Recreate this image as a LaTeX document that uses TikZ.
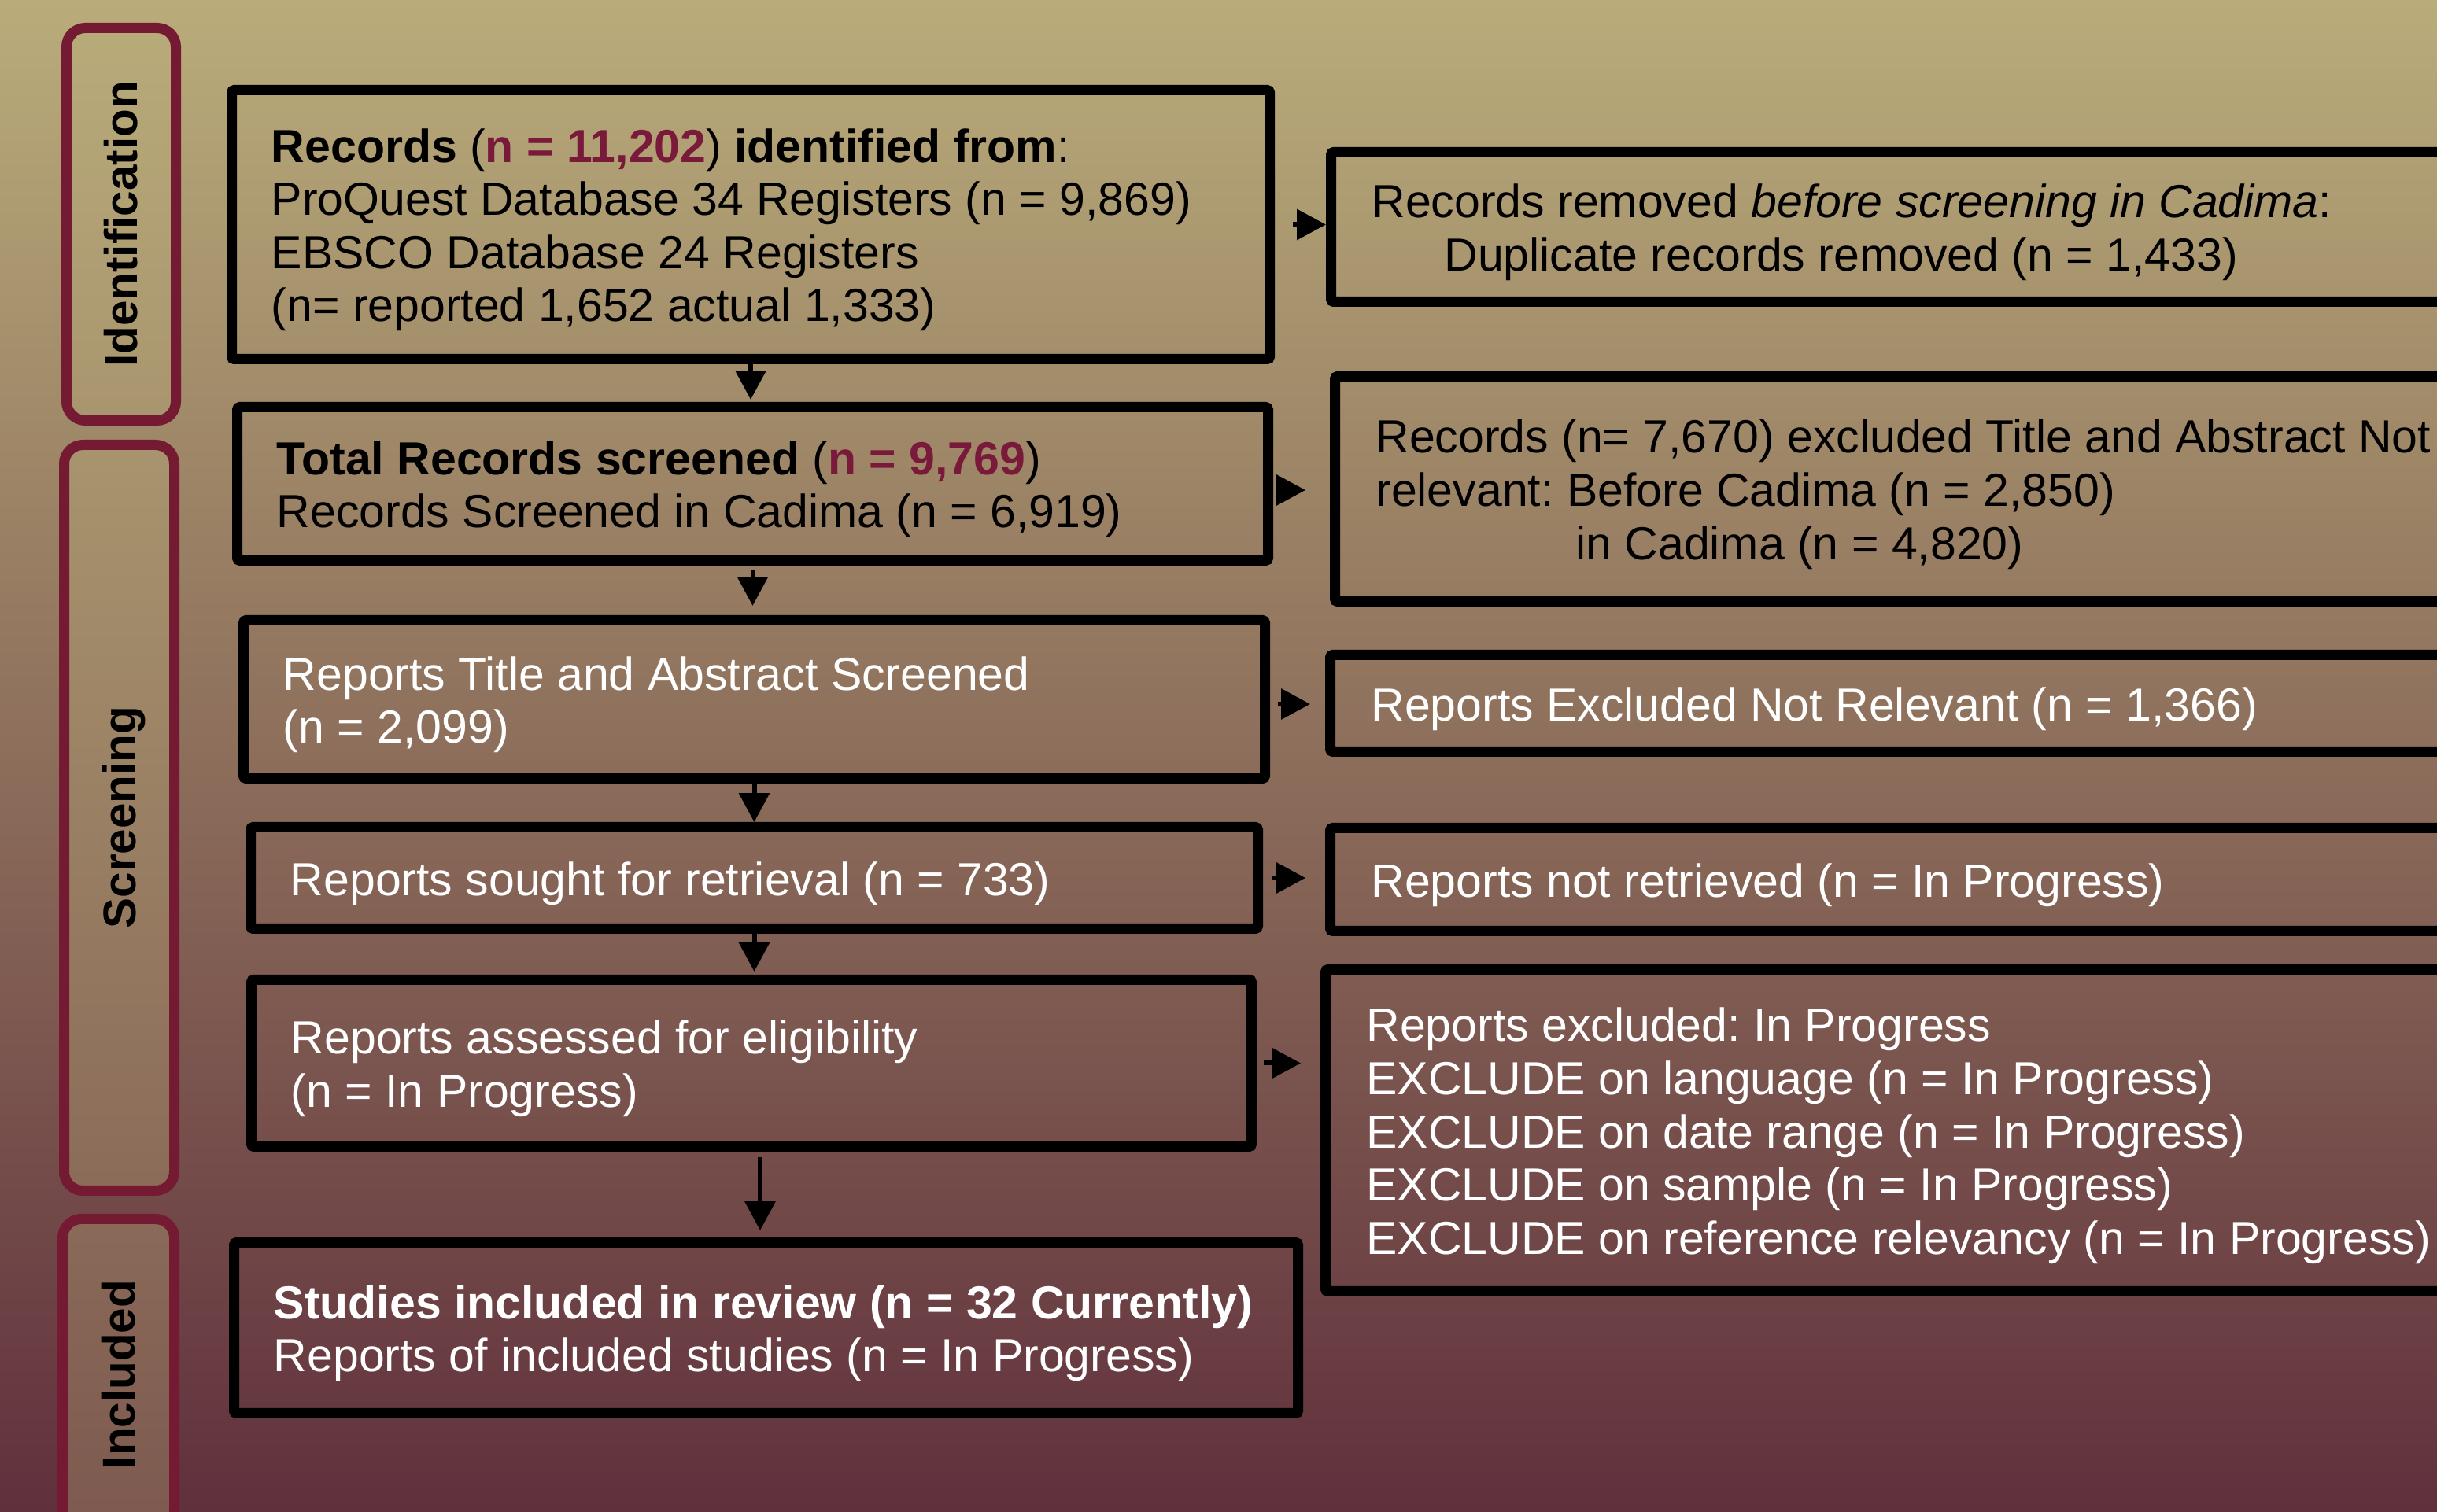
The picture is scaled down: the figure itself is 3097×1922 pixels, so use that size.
\documentclass[tikz,border=0pt]{standalone}
\usepackage{fontspec}
\setmainfont{Liberation Sans}
\usetikzlibrary{arrows.meta}
\definecolor{bgtop}{RGB}{185,172,122}
\definecolor{bgbot}{RGB}{96,48,60}
\definecolor{bandtop}{RGB}{185,172,122}
\definecolor{bandbot}{RGB}{126,90,80}
\definecolor{bandline}{RGB}{116,26,51}
\definecolor{hl}{RGB}{122,26,58}
\frenchspacing
\begin{document}
\begin{tikzpicture}[x=0.25pt,y=-0.25pt,
  box/.style={draw=black, line width=3.25pt, inner sep=0pt, rounded corners=0.8pt},
  txt/.style={inner sep=0pt, align=left, anchor=west, yshift=-1.7pt, font=\fontsize{14.75}{16.9}\selectfont},
  bandtxt/.style={rotate=90, inner sep=0pt, text height=10.4pt, text depth=0pt, font=\bfseries\fontsize{14.6}{17}\selectfont},
  bandline/.style={draw=bandline, line width=3.25pt, rounded corners=6pt},
  arr/.style={line width=1.5pt, -{Triangle[length=9.2pt,width=9.5pt]}}]
\useasboundingbox (0,0) rectangle (3097,1922);
\clip (0,0) rectangle (3097,1922);
% background
\shade[top color=bgtop, bottom color=bgbot] (0,0) rectangle (3097,1922);
% side bands
\begin{scope}
\clip[rounded corners=6pt] (84.5,35.5) rectangle (223.5,534.5);
\shade[top color=bandtop, bottom color=bandbot] (0,0) rectangle (3097,1922);
\end{scope}
\begin{scope}
\clip[rounded corners=6pt] (81.5,565.5) rectangle (221.5,1513.5);
\shade[top color=bandtop, bottom color=bandbot] (0,0) rectangle (3097,1922);
\end{scope}
\begin{scope}
\clip[rounded corners=6pt] (79.5,1549.5) rectangle (221.5,1944.5);
\shade[top color=bandtop, bottom color=bandbot] (0,0) rectangle (3097,1922);
\end{scope}
\draw[bandline] (84.5,35.5) rectangle (223.5,534.5);
\draw[bandline] (81.5,565.5) rectangle (221.5,1513.5);
\draw[bandline] (79.5,1549.5) rectangle (221.5,1944.5);
\node[bandtxt] (lid) at (154,285) {Identification};
\node[bandtxt] (lscr) at (152,1039) {Screening};
\node[bandtxt] (linc) at (151,1747) {Included};
% left boxes
\node[box, minimum width=329.75pt, minimum height=85.5pt] (b1) at (954,285.5) {};
\node[box, minimum width=327.5pt, minimum height=48.75pt] (b2) at (956.5,615) {};
\node[box, minimum width=324.5pt, minimum height=50.25pt] (b3) at (958.5,889) {};
\node[box, minimum width=320pt, minimum height=32.25pt] (b4) at (958.5,1116) {};
\node[box, minimum width=317.75pt, minimum height=53pt] (b5) at (955,1351.5) {};
\node[box, minimum width=338pt, minimum height=54.25pt] (b6) at (973.5,1688) {};
% right boxes
\node[box, minimum width=363pt, minimum height=47.5pt] (r1) at (2417.5,288.5) {};
\node[box, minimum width=361.75pt, minimum height=71.5pt] (r2) at (2420,621.5) {};
\node[box, minimum width=363.25pt, minimum height=30.75pt] (r3) at (2417,894) {};
\node[box, minimum width=363.25pt, minimum height=32.75pt] (r4) at (2417,1118) {};
\node[box, minimum width=364.75pt, minimum height=102.25pt] (r5) at (2414,1437) {};
% texts
\node[txt, text=black] (t1) at ([xshift=14pt]b1.west) {\textbf{Records} (\textbf{\color{hl}n = 11,202}) \textbf{identified from}:\\
ProQuest Database 34 Registers (n = 9,869)\\
EBSCO Database 24 Registers\\
(n= reported 1,652 actual 1,333)};
\node[txt, text=black] (t2) at ([xshift=14pt]b2.west) {\textbf{Total Records screened} (\textbf{\color{hl}n = 9,769})\\
Records Screened in Cadima (n = 6,919)};
\node[txt, text=white] (t3) at ([xshift=14pt]b3.west) {Reports Title and Abstract Screened\\(n = 2,099)};
\node[txt, text=white] (t4) at ([xshift=14pt]b4.west) {Reports sought for retrieval (n = 733)};
\node[txt, text=white] (t5) at ([xshift=14pt]b5.west) {Reports assessed for eligibility\\(n = In Progress)};
\node[txt, text=white] (t6) at ([xshift=14pt]b6.west) {\textbf{Studies included in review (n = 32 Currently)}\\Reports of included studies (n = In Progress)};
\node[txt, text=black] (s1) at ([xshift=14.4pt]r1.west) {Records removed \textit{before screening in Cadima}:\\
\hspace*{23pt}Duplicate records removed (n = 1,433)};
\node[txt, text=black] (s2) at ([xshift=14.4pt]r2.west) {Records (n= 7,670) excluded Title and Abstract Not\\
relevant: Before Cadima (n = 2,850)\\
\hspace*{63.5pt}in Cadima (n = 4,820)};
\node[txt, text=white] (s3) at ([xshift=14.4pt]r3.west) {Reports Excluded Not Relevant (n = 1,366)};
\node[txt, text=white] (s4) at ([xshift=14.4pt]r4.west) {Reports not retrieved (n = In Progress)};
\node[txt, text=white] (s5) at ([xshift=14.4pt]r5.west) {Reports excluded: In Progress\\
EXCLUDE on language (n = In Progress)\\
EXCLUDE on date range (n = In Progress)\\
EXCLUDE on sample (n = In Progress)\\
EXCLUDE on reference relevancy (n = In Progress)};
% down arrows
\draw[arr, shorten >=0.75pt] (b1.south) -- (b1.south |- b2.north);
\draw[arr, shorten <=1.25pt, shorten >=3pt] (b2.south) -- (b2.south |- b3.north);
\draw[arr] (b3.south) -- (b3.south |- b4.north);
\draw[arr, shorten >=1pt] (b4.south) -- (b4.south |- b5.north);
\draw[arr, shorten <=1.75pt, shorten >=2.25pt] ([xshift=2.75pt]b5.south) -- ([xshift=2.75pt]b5.south |- b6.north);
% right arrows
\draw[arr, shorten <=5.75pt] (b1.east) -- (b1.east -| r1.west);
\draw[arr, shorten <=0.75pt, shorten >=7.75pt] ([yshift=-2pt]b2.east) -- ([yshift=-2pt]b2.east -| r2.west);
\draw[arr, shorten <=2.5pt, shorten >=4.75pt] ([yshift=-1.5pt]b3.east) -- ([yshift=-1.5pt]b3.east -| r3.west);
\draw[arr, shorten <=2.75pt, shorten >=6.25pt] (b4.east) -- (b4.east -| r4.west);
\draw[arr, shorten <=2.25pt, shorten >=6.25pt] (b5.east) -- (b5.east -| r5.west);
\end{tikzpicture}
\end{document}
